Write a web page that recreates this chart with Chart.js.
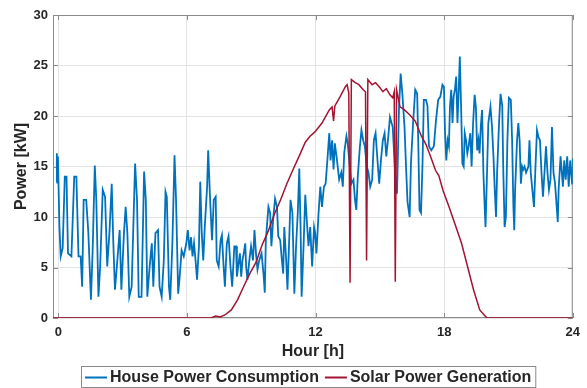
<!DOCTYPE html>
<html lang="en">
<head>
<meta charset="UTF-8">
<title>House Power Consumption and Solar Power Generation</title>
<style>
  html, body { margin: 0; padding: 0; background: #fff; }
</style>
<script src="https://cdn.jsdelivr.net/npm/chart.js"></script>
</head>
<body>
<canvas id="powerChart" width="587" height="388"></canvas>
<script>
// hours and kW
const houseHours = [
  -0.10, -0.07, -0.05, -0.02, 0.05, 0.11, 0.20, 0.30, 0.38, 0.45, 0.61, 0.74, 0.84, 0.94, 1.04, 1.11, 1.18, 1.30, 1.40, 1.52,
  1.60, 1.70, 1.77, 1.87, 1.95, 2.07, 2.18, 2.28, 2.39, 2.49, 2.56, 2.64, 2.73, 2.86, 2.94, 3.06, 3.14, 3.22, 3.31, 3.42,
  3.58, 3.67, 3.75, 3.88, 4.00, 4.08, 4.15, 4.26, 4.36, 4.43, 4.53, 4.65, 4.72, 4.82, 4.92, 5.00, 5.06, 5.16, 5.22, 5.32,
  5.42, 5.49, 5.59, 5.65, 5.75, 5.85, 5.97, 6.04, 6.12, 6.19, 6.26, 6.33, 6.40, 6.47, 6.56, 6.62, 6.69, 6.76, 6.83, 6.94,
  6.99, 7.08, 7.17, 7.25, 7.34, 7.39, 7.48, 7.57, 7.63, 7.71, 7.77, 7.86, 7.94, 8.03, 8.11, 8.21, 8.29, 8.33, 8.39, 8.47,
  8.53, 8.59, 8.65, 8.72, 8.76, 8.82, 8.91, 8.99, 9.08, 9.15, 9.22, 9.29, 9.37, 9.48, 9.57, 9.63, 9.68, 9.80, 9.88, 9.94,
  10.03, 10.11, 10.20, 10.26, 10.35, 10.43, 10.49, 10.54, 10.63, 10.69, 10.78, 10.83, 10.92, 11.01, 11.09, 11.17, 11.24, 11.30, 11.35, 11.44,
  11.52, 11.59, 11.67, 11.75, 11.84, 11.93, 11.98, 12.04, 12.14, 12.22, 12.30, 12.39, 12.47, 12.55, 12.64, 12.70, 12.77, 12.84, 12.90, 13.00,
  13.10, 13.20, 13.27, 13.34, 13.44, 13.50, 13.57, 13.67, 13.77, 13.84, 13.90, 13.97, 14.07, 14.14, 14.22, 14.30, 14.39, 14.47, 14.55, 14.64,
  14.72, 14.80, 14.89, 14.97, 15.05, 15.14, 15.22, 15.30, 15.39, 15.47, 15.60, 15.72, 15.80, 15.89, 15.97, 16.05, 16.15, 16.22, 16.29, 16.39,
  16.45, 16.55, 16.65, 16.74, 16.79, 16.85, 16.92, 16.99, 17.05, 17.15, 17.22, 17.29, 17.40, 17.52, 17.62, 17.72, 17.82, 17.92, 17.99, 18.04,
  18.10, 18.16, 18.22, 18.27, 18.33, 18.39, 18.44, 18.50, 18.56, 18.62, 18.68, 18.73, 18.79, 18.85, 18.91, 18.96, 19.02, 19.08, 19.14, 19.22,
  19.28, 19.35, 19.42, 19.48, 19.54, 19.60, 19.65, 19.71, 19.77, 19.83, 19.89, 19.93, 20.00, 20.06, 20.16, 20.23, 20.30, 20.36, 20.42, 20.47,
  20.56, 20.63, 20.71, 20.76, 20.82, 20.88, 20.95, 21.02, 21.11, 21.17, 21.23, 21.27, 21.31, 21.40, 21.46, 21.52, 21.58, 21.64, 21.69, 21.75,
  21.82, 21.93, 21.98, 22.04, 22.10, 22.19, 22.26, 22.33, 22.40, 22.47, 22.54, 22.61, 22.68, 22.75, 22.82, 22.89, 22.96, 23.03, 23.10, 23.17,
  23.25, 23.30, 23.34, 23.43, 23.49, 23.54, 23.60, 23.67, 23.74, 23.81, 23.88, 23.97, 24.00
];
const houseKw = [
  13.5, 16.3, 13.4, 16.0, 9.0, 6.1, 6.9, 14.0, 14.0, 6.4, 6.1, 14.0, 14.0, 6.1, 6.1, 3.1, 11.7, 11.7, 8.4, 1.8,
  6.7, 15.1, 11.7, 2.1, 5.1, 12.7, 12.0, 5.1, 8.7, 13.3, 7.7, 2.8, 5.1, 8.7, 2.8, 8.4, 11.0, 8.4, 2.1, 3.1,
  15.3, 11.7, 2.1, 2.1, 14.5, 11.7, 2.1, 5.1, 7.4, 3.1, 8.4, 8.7, 3.1, 2.1, 5.7, 12.5, 12.0, 3.1, 1.8, 7.4,
  16.1, 11.7, 2.4, 3.8, 6.7, 6.1, 7.4, 8.7, 6.7, 8.0, 6.1, 7.4, 5.7, 3.8, 7.1, 13.5, 8.4, 5.7, 9.0, 13.0,
  16.6, 11.7, 7.7, 11.7, 12.0, 5.7, 5.1, 7.7, 8.2, 5.1, 3.1, 7.4, 8.1, 5.1, 3.1, 7.1, 7.1, 4.1, 5.1, 6.4,
  4.1, 5.7, 6.4, 7.4, 5.1, 3.8, 5.7, 7.1, 5.7, 8.7, 6.4, 4.8, 5.7, 6.4, 4.4, 2.5, 7.7, 11.0, 10.4, 7.1,
  10.0, 11.8, 11.0, 8.1, 7.7, 5.7, 4.4, 9.0, 5.7, 2.8, 8.4, 11.7, 10.4, 2.4, 7.1, 10.4, 14.8, 9.0, 2.1, 7.1,
  12.2, 9.7, 7.1, 9.0, 5.1, 9.0, 8.4, 6.4, 10.4, 13.0, 11.0, 13.0, 13.3, 15.6, 18.3, 15.6, 17.6, 14.7, 17.3, 15.6,
  13.7, 14.4, 13.0, 16.4, 18.0, 17.3, 15.6, 13.3, 13.7, 11.7, 10.7, 14.0, 17.0, 18.6, 17.6, 17.0, 15.0, 14.4, 13.0, 13.7,
  17.6, 18.3, 15.6, 13.3, 15.6, 17.6, 18.3, 16.0, 17.9, 19.9, 18.9, 14.0, 12.3, 20.6, 24.2, 22.2, 18.9, 15.0, 11.5, 10.0,
  15.3, 19.3, 22.6, 22.2, 17.6, 10.7, 10.4, 15.3, 21.6, 21.6, 21.0, 17.0, 16.6, 17.0, 19.6, 21.6, 21.9, 23.1, 22.9, 18.3,
  15.6, 17.6, 17.0, 20.9, 22.6, 19.3, 21.9, 22.6, 23.9, 19.3, 22.6, 25.9, 20.9, 15.3, 15.0, 18.3, 17.6, 16.3, 17.0, 18.3,
  15.0, 19.3, 22.1, 20.9, 16.6, 17.6, 16.3, 19.0, 20.6, 14.4, 11.0, 9.0, 14.4, 19.3, 20.9, 19.0, 16.0, 12.7, 10.0, 14.4,
  19.3, 22.2, 21.0, 14.4, 9.0, 10.0, 17.6, 21.8, 21.6, 17.6, 11.0, 8.7, 12.7, 17.6, 19.3, 17.6, 13.3, 15.0, 14.7, 15.0,
  14.4, 15.0, 17.6, 14.4, 13.0, 11.0, 15.0, 18.6, 17.9, 17.6, 14.4, 12.0, 14.4, 17.0, 14.4, 12.7, 13.7, 18.9, 14.4, 13.4,
  11.0, 9.5, 12.7, 16.0, 14.4, 13.0, 15.6, 13.7, 16.0, 13.0, 15.6, 13.3, 15.8
];
const solarHours = [
  -0.25, 7.12, 7.34, 7.55, 7.77, 8.07, 8.36, 8.64, 8.93, 9.22, 9.50, 9.79, 10.08, 10.37, 10.66, 10.95, 11.23, 11.52, 11.74, 11.96,
  12.30, 12.64, 12.77, 12.84, 12.90, 13.14, 13.39, 13.47, 13.55, 13.61, 13.67, 13.85, 14.02, 14.22, 14.33, 14.38, 14.44, 14.64, 14.80, 14.97,
  15.14, 15.30, 15.47, 15.60, 15.67, 15.72, 15.78, 15.94, 16.15, 16.40, 16.65, 16.94, 17.15, 17.40, 17.60, 17.75, 17.95, 18.23, 18.52, 18.81,
  19.09, 19.37, 19.66, 19.95, 20.02, 24.00
];
const solarKw = [
  0, 0, 0.2, 0.1, 0.3, 0.8, 1.8, 3.1, 4.4, 5.5, 7.2, 8.6, 10.3, 11.7, 13.3, 14.7, 16.0, 17.4, 18.0, 18.4,
  19.3, 20.6, 20.9, 19.5, 21.0, 21.9, 22.9, 23.1, 22.3, 3.5, 23.6, 23.3, 23.1, 22.6, 22.4, 5.7, 23.6, 23.1, 23.3, 22.9,
  22.4, 22.7, 22.1, 21.8, 22.4, 3.6, 22.6, 20.9, 20.6, 20.1, 19.5, 18.0, 17.2, 15.8, 14.6, 14.1, 12.6, 11.0, 9.2, 7.4,
  5.1, 2.8, 0.8, 0.1, 0, 0
];
const xTicks = [0, 6, 12, 18, 24];
const yTicks = [0, 5, 10, 15, 20, 25, 30];

const FONT = '"Liberation Sans", Arial, sans-serif';
const TEXT = '#262626';
const FRAME = '#8a8a8a';

// matlab style box with inward ticks, drawn under the lines
const framePlugin = {
  id: 'frame',
  beforeDatasetsDraw(chart) {
    const { ctx, chartArea: a, scales: { x, y } } = chart;
    ctx.save();
    ctx.strokeStyle = FRAME;
    ctx.lineWidth = 1;
    ctx.strokeRect(a.left + 0.5, a.top + 0.5, a.width - 1, a.height - 1);
    ctx.beginPath();
    xTicks.forEach(v => {
      const px = Math.round(x.getPixelForValue(v)) + 0.5;
      ctx.moveTo(px, a.top); ctx.lineTo(px, a.top + 5);
      ctx.moveTo(px, a.bottom); ctx.lineTo(px, a.bottom - 5);
    });
    yTicks.forEach(v => {
      const py = Math.round(y.getPixelForValue(v)) + 0.5;
      ctx.moveTo(a.left, py); ctx.lineTo(a.left + 5, py);
      ctx.moveTo(a.right, py); ctx.lineTo(a.right - 5, py);
    });
    ctx.stroke();
    ctx.restore();
  }
};

// boxed legend under the axis title
const legendPlugin = {
  id: 'boxLegend',
  afterDraw(chart) {
    const { ctx, chartArea: a } = chart;
    const sets = chart.data.datasets;
    const sw = 22, gap = 3, itemGap = 6, pad = 4, h = 21;
    ctx.save();
    ctx.font = 'bold 16px ' + FONT;
    const widths = sets.map(d => ctx.measureText(d.label).width);
    const total = pad * 2 + widths.reduce((s, w) => s + sw + gap + w, 0) + itemGap * (sets.length - 1);
    const left = Math.round((a.left + a.right) / 2 - 5 - total / 2);
    const top = chart.height - 22;
    const midY = top + h / 2 + 1;
    ctx.fillStyle = '#fff';
    ctx.fillRect(left, top, total, h);
    ctx.strokeStyle = FRAME;
    ctx.lineWidth = 1;
    ctx.strokeRect(left + 0.5, top + 0.5, total, h);
    let cx = left + pad;
    sets.forEach((d, i) => {
      ctx.strokeStyle = d.borderColor;
      ctx.lineWidth = 2;
      ctx.beginPath();
      ctx.moveTo(cx, midY);
      ctx.lineTo(cx + sw, midY);
      ctx.stroke();
      cx += sw + gap;
      ctx.fillStyle = TEXT;
      ctx.textBaseline = 'middle';
      ctx.textAlign = 'left';
      ctx.fillText(d.label, cx, midY);
      cx += widths[i] + itemGap;
    });
    ctx.restore();
  }
};

const ctx = document.getElementById('powerChart').getContext('2d');
new Chart(ctx, {
  type: 'line',
  data: {
    datasets: [
      {
        label: 'House Power Consumption',
        data: houseHours.map((h, i) => ({ x: h, y: houseKw[i] })),
        borderColor: '#0072BD',
        borderWidth: 1.8,
        pointRadius: 0,
        tension: 0,
        order: 1
      },
      {
        label: 'Solar Power Generation',
        data: solarHours.map((h, i) => ({ x: h, y: solarKw[i] })),
        borderColor: '#A2142F',
        borderWidth: 1.5,
        pointRadius: 0,
        tension: 0,
        order: 0
      }
    ]
  },
  options: {
    responsive: false,
    animation: false,
    devicePixelRatio: 1,
    layout: { padding: { top: 15, right: 10, bottom: 0, left: 0 } },
    plugins: {
      legend: { display: false },
      tooltip: { enabled: false }
    },
    scales: {
      x: {
        type: 'linear',
        min: -0.25,
        max: 24,
        afterBuildTicks: s => { s.ticks = xTicks.map(v => ({ value: v })); },
        afterFit: s => { s.height = 70; },
        ticks: {
          font: { family: FONT, size: 13, weight: 'bold' },
          color: TEXT,
          padding: 7,
          maxRotation: 0,
          callback: v => String(v)
        },
        grid: { color: '#e3e3e3', drawTicks: false },
        border: { display: false },
        title: {
          display: true,
          text: 'Hour [h]',
          color: TEXT,
          font: { family: FONT, size: 16, weight: 'bold' },
          padding: { top: 0, bottom: 27 }
        }
      },
      y: {
        min: 0,
        max: 30,
        afterBuildTicks: s => { s.ticks = yTicks.map(v => ({ value: v })); },
        afterFit: s => { s.width = 53; },
        ticks: {
          font: { family: FONT, size: 13, weight: 'bold' },
          color: TEXT,
          padding: 5,
          callback: v => String(v)
        },
        grid: { color: '#e3e3e3', drawTicks: false },
        border: { display: false },
        title: {
          display: true,
          text: 'Power [kW]',
          color: TEXT,
          font: { family: FONT, size: 16, weight: 'bold' },
          padding: { top: 12, bottom: 0 }
        }
      }
    }
  },
  plugins: [framePlugin, legendPlugin]
});
</script>
</body>
</html>
